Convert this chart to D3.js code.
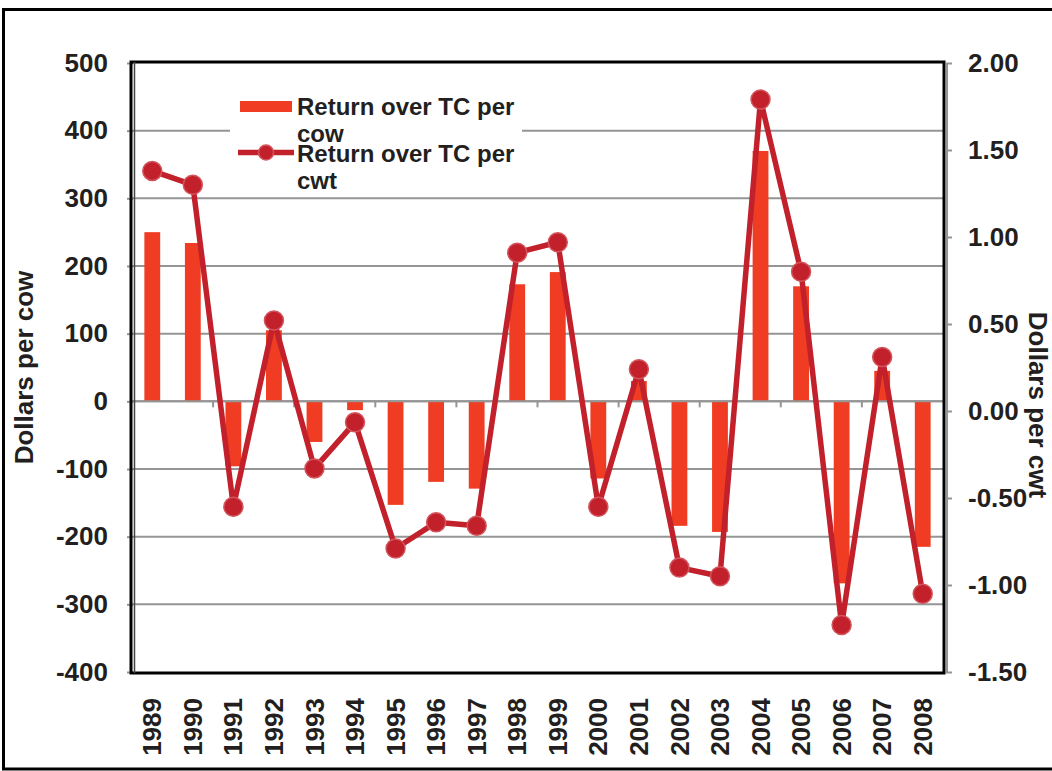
<!DOCTYPE html>
<html>
<head>
<meta charset="utf-8">
<script src="https://cdn.jsdelivr.net/npm/d3@7"></script>
<style>
  html, body { margin: 0; padding: 0; background: #fff; }
  svg { display: block; font-family: "Liberation Sans", Arial, sans-serif; font-weight: bold; }
</style>
</head>
<body>
<svg id="chart" width="1052" height="771"></svg>
<script>
const years = ["1989","1990","1991","1992","1993","1994","1995","1996","1997","1998","1999","2000","2001","2002","2003","2004","2005","2006","2007","2008"];
const perCow = [250, 234, -96, 105, -60, -13, -153, -119, -129, 173, 191, -114, 30, -184, -193, 370, 170, -269, 45, -215];
const perCwt = [1.38, 1.30, -0.55, 0.52, -0.33, -0.065, -0.79, -0.64, -0.66, 0.91, 0.97, -0.55, 0.24, -0.90, -0.95, 1.79, 0.80, -1.23, 0.31, -1.05];
const leftTicks = [500, 400, 300, 200, 100, 0, -100, -200, -300, -400];
const rightTicks = [2.0, 1.5, 1.0, 0.5, 0.0, -0.5, -1.0, -1.5];
const seriesNames = ["Return over TC per cow", "Return over TC per cwt"];
const leftTitle = "Dollars per cow";
const rightTitle = "Dollars per cwt";

const barColor = "#F03C22";
const lineColor = "#C2202B";
const gridColor = "#959595";
const textColor = "#231f20";

const svg = d3.select("#chart");
const L = 132, R = 943, T = 63, B = 672;

const x = d3.scaleBand().domain(years).range([L, R]).paddingInner(0.61).paddingOuter(0.305);
const step = x.step();
const yL = d3.scaleLinear().domain([-400, 500]).range([B, T]);
const yR = d3.scaleLinear().domain([-1.5, 2.0]).range([B, T]);
const hy = f => d => f(d).replace("\u2212", "-");

// outer frame
svg.append("rect").attr("x", 3.5).attr("y", 9.5).attr("width", 1070).attr("height", 759.5)
  .attr("fill", "none").attr("stroke", "#000").attr("stroke-width", 3);

// gridlines
svg.append("g").selectAll("line").data(leftTicks.filter(d => d !== 500 && d !== -400)).join("line")
  .attr("x1", L).attr("x2", R).attr("y1", d => yL(d)).attr("y2", d => yL(d))
  .attr("stroke", gridColor).attr("stroke-width", 2);

// left axis
const leftAxis = d3.axisLeft(yL).tickValues(leftTicks).tickSize(6).tickFormat(hy(d3.format("d")));
const gL = svg.append("g").attr("transform", `translate(${L + 1},0)`).call(leftAxis);
gL.select(".domain").remove();
gL.selectAll(".tick line").attr("stroke", gridColor).attr("stroke-width", 2);
gL.selectAll(".tick text").attr("x", -25).attr("fill", textColor)
  .style("font-size", "26px").style("font-weight", "bold").style("font-family", "'Liberation Sans', Arial, sans-serif");

// right axis
const rightAxis = d3.axisRight(yR).tickValues(rightTicks).tickSize(6).tickFormat(hy(d3.format(".2f")));
const gR = svg.append("g").attr("transform", `translate(${R + 3},0)`).call(rightAxis);
gR.select(".domain").attr("stroke", gridColor).attr("stroke-width", 2).attr("d", `M1,${T}V${B + 1}`);
gR.selectAll(".tick line").attr("stroke", gridColor).attr("stroke-width", 2);
gR.selectAll(".tick text").attr("x", 22).attr("fill", textColor)
  .style("font-size", "26px").style("font-weight", "bold").style("font-family", "'Liberation Sans', Arial, sans-serif");

// bars
svg.append("g").selectAll("rect").data(years).join("rect")
  .attr("x", d => x(d))
  .attr("width", x.bandwidth())
  .attr("y", (d, i) => yL(Math.max(0, perCow[i])))
  .attr("height", (d, i) => Math.abs(yL(perCow[i]) - yL(0)))
  .attr("fill", barColor);

// zero axis line with ticks at every 2nd category boundary
svg.append("line").attr("x1", L).attr("x2", R).attr("y1", yL(0)).attr("y2", yL(0))
  .attr("stroke", gridColor).attr("stroke-width", 2);
const boundaries = years.slice(1).map((d, i) => i + 1).filter(k => k % 2 === 0);
svg.append("g").selectAll("line").data(boundaries).join("line")
  .attr("x1", k => L + k * step).attr("x2", k => L + k * step)
  .attr("y1", yL(0)).attr("y2", yL(0) + 6)
  .attr("stroke", gridColor).attr("stroke-width", 2);

// plot frame
svg.append("rect").attr("x", 131).attr("y", 62).attr("width", 813).attr("height", 611)
  .attr("fill", "none").attr("stroke", "#000").attr("stroke-width", 3);
svg.append("line").attr("x1", 134.5).attr("x2", 134.5).attr("y1", 62).attr("y2", 673)
  .attr("stroke", "#444").attr("stroke-width", 1.5);

// line series
const cx = d => x(d) + x.bandwidth() / 2;
const line = d3.line().x((d, i) => cx(years[i])).y(d => yR(d));
svg.append("path").datum(perCwt).attr("d", line)
  .attr("fill", "none").attr("stroke", lineColor).attr("stroke-width", 5.5).attr("stroke-linejoin", "round");
svg.append("g").selectAll("circle").data(perCwt).join("circle")
  .attr("cx", (d, i) => cx(years[i])).attr("cy", d => yR(d)).attr("r", 9.5)
  .attr("fill", lineColor).attr("stroke", "#d2555d").attr("stroke-width", 1.5);

// x labels
svg.append("g").selectAll("text").data(years).join("text")
  .attr("transform", d => `translate(${cx(d)},698) rotate(-90)`)
  .attr("dy", "0.35em").attr("text-anchor", "end")
  .attr("fill", textColor).style("font-size", "26px").text(d => d);

// axis titles
svg.append("text").attr("transform", `translate(33,${(T + B) / 2}) rotate(-90)`)
  .attr("text-anchor", "middle").attr("fill", textColor).style("font-size", "26px").text(leftTitle);
svg.append("text").attr("transform", `translate(1029,405) rotate(90)`)
  .attr("text-anchor", "middle").attr("fill", textColor).style("font-size", "26px").text(rightTitle);

// legend
const lg = svg.append("g");
lg.append("rect").attr("x", 230).attr("y", 90).attr("width", 292).attr("height", 106).attr("fill", "#fff");
lg.append("rect").attr("x", 240).attr("y", 101).attr("width", 52).attr("height", 11).attr("fill", barColor);
function wrapLabel(name, y0) {
  const words = name.split(" ");
  const first = words.slice(0, -1).join(" ");
  const last = words[words.length - 1];
  const t = lg.append("text").attr("x", 297).attr("y", y0).attr("fill", textColor).style("font-size", "24px");
  t.append("tspan").attr("x", 297).attr("y", y0).text(first);
  t.append("tspan").attr("x", 297).attr("y", y0 + 27.5).text(last);
}
wrapLabel(seriesNames[0], 114.5);
lg.append("line").attr("x1", 238).attr("x2", 294).attr("y1", 152.5).attr("y2", 152.5)
  .attr("stroke", lineColor).attr("stroke-width", 5.5);
lg.append("circle").attr("cx", 266).attr("cy", 152.5).attr("r", 7.5)
  .attr("fill", lineColor).attr("stroke", "#d2555d").attr("stroke-width", 1.5);
wrapLabel(seriesNames[1], 161.5);
</script>
</body>
</html>
